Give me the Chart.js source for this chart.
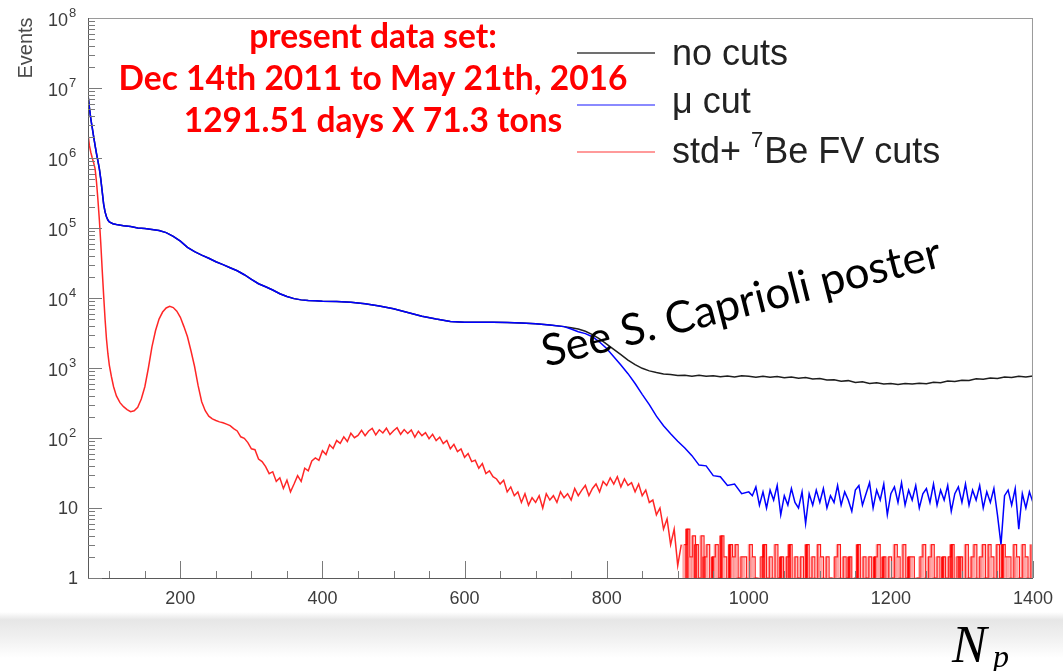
<!DOCTYPE html>
<html>
<head>
<meta charset="utf-8">
<script src="https://cdn.jsdelivr.net/npm/chart.js@4.4.1/dist/chart.umd.min.js"></script>
<style>
html, body { margin: 0; padding: 0; background: #fff; }
#wrap {
  position: relative; width: 1063px; height: 671px; overflow: hidden;
  background: linear-gradient(to bottom, #fff 0, #fff 612px, #e6e6e6 620px, #f2f2f2 640px, #fff 658px, #fff 671px);
}
canvas { position: absolute; left: 0; top: 0; }
</style>
</head>
<body>
<div id="wrap"><canvas id="c" width="1063" height="671"></canvas></div>
<script>
// x axis (N_p) and y axis (Events, log)
const xTicks = [200, 400, 600, 800, 1000, 1200, 1400];
const yTicks = [1, 10, 1e2, 1e3, 1e4, 1e5, 1e6, 1e7, 1e8];
const yLabelBase = ['1', '10', '10', '10', '10', '10', '10', '10', '10'];
const yLabelExp = ['', '', '2', '3', '4', '5', '6', '7', '8'];

// low N_p part: "no cuts" and "mu cut" lie on top of each other here
const sharedX = [70,72,74,76,78,80,82,84,86,88,90,92,94,96,98,100,105,110,
  120,130,140,150,160,170,180,190,200,210,220,230,240,250,260,270,280,290,300,
  310,320,330,340,350,360,370,380,390,400,420,440,460,480,500,520,540,560,580,
  600,620,640,660,680,700,720,740];
const sharedY = [8e6,5.2e6,3.6e6,2.7e6,2.0e6,1.5e6,1.15e6,9e5,7e5,5e5,3.3e5,2.2e5,1.7e5,1.45e5,1.3e5,1.22e5,
  1.15e5,1.12e5,
  1.08e5,1.05e5,1.0e5,9.8e4,9.5e4,9.2e4,8.6e4,7.6e4,6.5e4,5.3e4,4.6e4,4.1e4,3.7e4,3.3e4,3.0e4,2.7e4,
  2.45e4,2.15e4,1.85e4,1.6e4,1.45e4,1.3e4,1.15e4,1.05e4,9.8e3,9.4e3,9.2e3,9.1e3,9.0e3,
  8.9e3,8.7e3,8.3e3,7.7e3,7.0e3,6.2e3,5.5e3,5.0e3,4.6e3,4.5e3,4.5e3,4.5e3,4.45e3,4.4e3,4.3e3,4.1e3,3.9e3];

// no cuts, from 750 in steps of 10
const noCutsStart = 750, noCutsStep = 10;
const noCutsY = [3.75e3,3.6e3,3.35e3,3.0e3,2.6e3,2.2e3,1.85e3,1.55e3,1.3e3,1.12e3,
  990,910,860,820,810,780,790,765,785,760,
  775,750,770,745,775,760,740,765,735,755,
  725,745,715,730,695,710,675,680,645,660,
  620,635,600,615,590,600,580,600,590,605,
  595,625,615,650,640,670,665,700,690,720,
  710,745,730,765,745,770];

// mu cut, from 750 in steps of 10, then from 1005 in steps of 5
const muStart = 750, muStep = 10;
const muY = [3.6e3,3.3e3,3.1e3,2.8e3,2.35e3,1.9e3,1.45e3,1.1e3,830,600,
  420,300,205,150,115,90,72,56,41,40,29,28,21,22,16,17];
const muNoiseStart = 1005, muNoiseStep = 5;
const muNoiseY = [15,20,11,17,10,18,13,21,8,15, 11,19,12,10,17,6,16,11,18,12,
  19,10,15,12,21,11,17,13,9,18, 21,11,16,23,10,18,13,22,8,16,
  20,12,23,11,18,13,21,10,16,19, 12,22,11,18,13,21,9,16,20,12,
  22,11,18,13,21,10,17,12,19,8, 3,15,18,11,19,5,16,10,17,12];

// std + 7Be FV cuts
const redHeadX = [70,72,74,76,78,80,82,84,86,88,90,92,94,96,98,100,103,106,110,
  115,120,125,130,135,140,145,150,155,160,165,170,175,180,185,190,195,200,205,210,
  215,220,225,230,235,240,245,250,255,260,265,270,275];
const redHeadY = [2.2e6,1.5e6,1.2e6,1.0e6,8.5e5,7e5,4.5e5,2.5e5,1.3e5,6e4,2.5e4,1.1e4,5e3,2.6e3,1.6e3,1.1e3,750,540,400,
  320,280,255,238,245,275,360,540,1.0e3,2.0e3,3.4e3,5.0e3,6.3e3,7.2e3,7.6e3,7.3e3,6.5e3,5.3e3,3.9e3,2.8e3,
  1.75e3,1.05e3,560,330,245,205,188,178,170,165,158,150,136];
const redBodyStart = 280, redBodyStep = 5;
const redBodyY = [126,104,99,86,70,68,50,46,39,31,
  33,24,27,19,25,17,22,29,24,37,
  34,47,52,48,66,58,80,71,92,84,
  104,89,117,101,109,129,108,126,137,111,
  131,118,138,112,127,140,113,132,116,130,
  103,125,108,119,98,113,92,103,83,92,
  70,81,64,70,53,60,46,48,37,43,
  31,34,28,26,22,25,17,20,15,17,
  12,16,11,14,12,15,10,16,13,15,
  12,17,14,16,13,19,15,18,21,15,
  19,22,17,24,21,27,22,28,20,26,
  21,23,17,22,15,18,12,13,8,10,
  5,7,3,5,1.5,3];
// single counts at high N_p (0 = empty bin)
const redTailStart = 909, redTailStep = 4;
const redTailCounts = [3,5,2,4,3,1,4,2,3,0, 2,3,1,4,2,0,3,2,3,1, 2,2,0,3,2,1,0,2,3,1,
  2,0,3,1,2,0,2,3,0,2, 1,2,0,3,1,2,0,3,2,0, 2,1,0,2,3,0,2,1,2,0,
  1,3,0,2,1,2,0,2,3,1, 2,0,2,1,3,2,0,3,1,2, 2,0,1,2,3,0,2,3,1,2,
  0,2,1,2,3,0,2,2,0,3, 1,2,3,0,2,3,1,3,2,0, 3,1,3,2,2,0,3,2,1,3,
  2,0,3];
const EMPTY = 0.4; // drawn below the axis floor, like an empty bin on a log plot

const legendItems = [
  { text: 'no cuts', color: '#707070', lineY: 53, baseY: 65 },
  { text: '\u03bc cut', color: '#8a8aff', lineY: 105, baseY: 113 },
  { text: 'std+ ', sup: '7', rest: 'Be FV cuts', color: '#ff9a9a', lineY: 152, baseY: 163 },
];
const noteLines = ['present data set:', 'Dec 14th 2011 to May 21th, 2016', '1291.51 days X 71.3 tons'];

function pts(xs, ys) { return ys.map((y, i) => ({ x: xs[i], y: y })); }
function bins(start, step, ys) { return ys.map((y, i) => ({ x: start + i * step, y: y })); }

const sharedPts = pts(sharedX, sharedY);
const noCutsPts = sharedPts.concat(bins(noCutsStart, noCutsStep, noCutsY));
const muPts = sharedPts.concat(bins(muStart, muStep, muY), bins(muNoiseStart, muNoiseStep, muNoiseY));
const redPts = pts(redHeadX, redHeadY).concat(bins(redBodyStart, redBodyStep, redBodyY));
const redTailPts = bins(redTailStart, redTailStep, redTailCounts.map(c => c > 0 ? c : EMPTY));

function fitSize(ctx, text, weight, font, width) {
  ctx.font = weight + ' 100px ' + font;
  return 100 * width / ctx.measureText(text).width;
}

const SANS = '"Liberation Sans", Arial, sans-serif';

const decor = {
  id: 'decor',
  afterDatasetsDraw(chart) {
    const ctx = chart.ctx, a = chart.chartArea;
    const xs = chart.scales.x, ys = chart.scales.y;
    ctx.save();
    // frame
    ctx.strokeStyle = '#9a9a9a';
    ctx.lineWidth = 1;
    ctx.strokeRect(a.left + 0.5, a.top + 0.5, a.right - a.left - 1, a.bottom - a.top);
    ctx.strokeStyle = '#5a5a5a';
    ctx.beginPath();
    ctx.moveTo(a.left + 0.5, a.top);
    ctx.lineTo(a.left + 0.5, a.bottom + 0.5);
    ctx.lineTo(a.right, a.bottom + 0.5);
    ctx.stroke();
    // inward ticks
    ctx.strokeStyle = '#7a7a7a';
    ctx.beginPath();
    for (let v = 100; v <= 1400; v += 50) {
      const px = Math.round(xs.getPixelForValue(v)) + 0.5;
      const len = v % 200 === 0 ? 17 : 7;
      ctx.moveTo(px, a.bottom);
      ctx.lineTo(px, a.bottom - len);
    }
    for (let d = 0; d < 8; d++) {
      for (let k = 1; k < 10; k++) {
        const py = Math.round(ys.getPixelForValue(k * Math.pow(10, d))) + 0.5;
        const len = k === 1 ? 14 : 7;
        ctx.moveTo(a.left, py);
        ctx.lineTo(a.left + len, py);
      }
    }
    ctx.stroke();
    // y tick labels with superscript exponents
    ctx.fillStyle = '#3c3c3c';
    yTicks.forEach((v, i) => {
      const py = ys.getPixelForValue(v);
      ctx.textAlign = 'right';
      ctx.textBaseline = 'middle';
      ctx.font = '18px ' + SANS;
      if (!yLabelExp[i]) {
        ctx.fillText(yLabelBase[i], 78, py + 1);
      } else {
        ctx.fillText(yLabelBase[i], 68, py + 3);
        ctx.textAlign = 'left';
        ctx.textBaseline = 'alphabetic';
        ctx.font = '13px ' + SANS;
        ctx.fillText(yLabelExp[i], 69, py - 1);
      }
    });
    ctx.restore();
  },
  afterDraw(chart) {
    const ctx = chart.ctx;
    ctx.save();
    // legend
    legendItems.forEach(it => {
      ctx.strokeStyle = it.color;
      ctx.lineWidth = 2;
      ctx.beginPath();
      ctx.moveTo(577, it.lineY);
      ctx.lineTo(655, it.lineY);
      ctx.stroke();
      ctx.fillStyle = '#222';
      ctx.font = '36px ' + SANS;
      ctx.textAlign = 'left';
      ctx.textBaseline = 'alphabetic';
      let x = 672;
      ctx.fillText(it.text, x, it.baseY);
      if (it.sup) {
        x += ctx.measureText(it.text).width;
        ctx.font = '22px ' + SANS;
        ctx.fillText(it.sup, x, it.baseY - 16);
        x += ctx.measureText(it.sup).width + 1;
        ctx.font = '36px ' + SANS;
        ctx.fillText(it.rest, x, it.baseY);
      }
    });
    // red note
    const noteFont = 'Lato, "Open Sans", sans-serif';
    const size = fitSize(ctx, noteLines[1], 'bold', noteFont, 509);
    ctx.fillStyle = '#ff0000';
    ctx.textAlign = 'center';
    ctx.textBaseline = 'alphabetic';
    ctx.font = 'bold ' + size.toFixed(1) + 'px ' + noteFont;
    [48, 90, 132].forEach((y, i) => ctx.fillText(noteLines[i], 373, y));
    // rotated poster note
    const posterText = 'See S. Caprioli poster';
    const ps = fitSize(ctx, posterText, 'normal', noteFont, 410);
    ctx.save();
    ctx.translate(546, 367);
    ctx.rotate(-14.2 * Math.PI / 180);
    ctx.fillStyle = '#000';
    ctx.textAlign = 'left';
    ctx.font = ps.toFixed(1) + 'px ' + noteFont;
    ctx.fillText(posterText, 0, 0);
    ctx.restore();
    // y title
    ctx.save();
    ctx.translate(32, 48);
    ctx.rotate(-Math.PI / 2);
    ctx.fillStyle = '#4a4a4a';
    ctx.textAlign = 'center';
    ctx.font = '20px ' + SANS;
    ctx.fillText('Events', 0, 0);
    ctx.restore();
    // x title N_p
    ctx.fillStyle = '#000';
    ctx.textAlign = 'left';
    ctx.font = 'italic 52px "Liberation Serif", serif';
    ctx.fillText('N', 952, 662);
    ctx.font = 'italic 32px "Liberation Serif", serif';
    ctx.fillText('p', 993, 667);
    ctx.restore();
  }
};

new Chart(document.getElementById('c'), {
  type: 'line',
  data: {
    datasets: [
      { label: 'no cuts', data: noCutsPts, borderColor: '#1e1e1e', borderWidth: 1.5, order: 5 },
      { label: '\u03bc cut', data: muPts, borderColor: '#0000ff', borderWidth: 1.5, order: 4 },
      { label: 'std+ 7Be FV cuts', data: redPts, borderColor: 'rgba(255,0,0,0.85)', borderWidth: 1.5, order: 3 },
      { label: 'std+ 7Be FV cuts (tail)', data: redTailPts, borderColor: 'rgba(255,0,0,0.9)', borderWidth: 1.2,
        stepped: true, order: 2 },
      { type: 'bar', label: 'std+ 7Be FV cuts (tail bins)', data: redTailPts,
        backgroundColor: c => c.dataIndex % 3 === 1 ? 'rgba(255,0,0,0.85)' : 'rgba(255,60,60,0.45)',
        barThickness: 2.8, order: 1 },
    ]
  },
  options: {
    responsive: false,
    animation: false,
    devicePixelRatio: 1,
    layout: { padding: { left: 28, right: 30, top: 18, bottom: 53 } },
    elements: { point: { radius: 0 }, line: { tension: 0 } },
    plugins: { legend: { display: false }, tooltip: { enabled: false } },
    scales: {
      x: {
        type: 'linear', min: 70, max: 1400, offset: false,
        afterBuildTicks: s => { s.ticks = xTicks.map(v => ({ value: v })); },
        afterFit: s => { s.height = 40; },
        grid: { display: false, drawTicks: false },
        border: { display: false },
        ticks: { color: '#3c3c3c', padding: 10, maxRotation: 0, autoSkip: false,
          callback: v => String(v),
          font: { family: SANS, size: 18 } }
      },
      y: {
        type: 'logarithmic', min: 1, max: 1e8,
        afterBuildTicks: s => { s.ticks = yTicks.map(v => ({ value: v })); },
        afterFit: s => { s.width = 60; },
        grid: { display: false, drawTicks: false },
        border: { display: false },
        ticks: { display: false }
      }
    }
  },
  plugins: [decor]
});
</script>
</body>
</html>
